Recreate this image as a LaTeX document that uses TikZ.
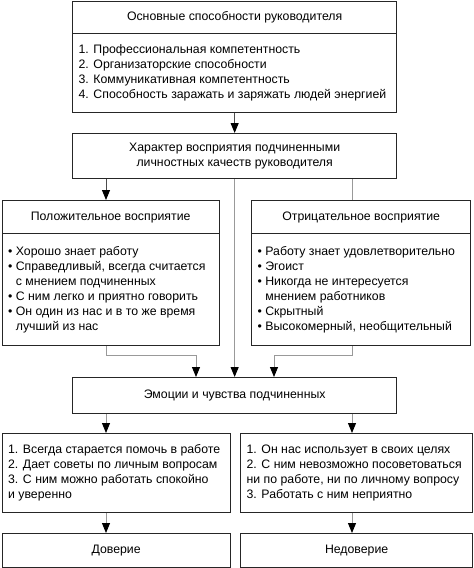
\documentclass[tikz,border=0pt]{standalone}
\usepackage{fontspec}
\setmainfont{Liberation Sans}
\usetikzlibrary{arrows.meta}
\newcommand{\lstbody}[2]{\makebox[#1][l]{\begin{tabular}{@{}l@{}}#2\end{tabular}}}
\begin{document}
\begin{tikzpicture}[x=1pt,y=-1pt,
  box/.style={draw=black!85,line width=1.3pt,fill=white,rectangle,inner xsep=6pt,inner ysep=0pt,
    anchor=north west,font=\fontsize{12.3}{15}\selectfont},
  ctr/.style={box,align=center},
  lst/.style={box},
  conn/.style={draw=black!40,line width=1pt},
  arr/.style={conn,-{Triangle[length=10pt,width=8pt,color=black,fill=black]}},
  darr/.style={draw=black!70,line width=1pt,-{Triangle[length=10pt,width=8pt,color=black,fill=black]}}
]
\useasboundingbox (0,0) rectangle (474,568);
% top box
\node[ctr,minimum width=324pt,minimum height=32pt] (t1) at (72,1) {Основные способности руководителя};
\node[lst,minimum width=324pt,minimum height=79pt] (t2) at (72,33) {\lstbody{312pt}{1. Профессиональная компетентность\\2. Организаторские способности\\3. Коммуникативная компетентность\\4. Способность заражать и заряжать людей энергией}};
% box 2
\node[ctr,minimum width=324pt,minimum height=45pt] (c) at (72,133) {Характер восприятия подчиненными\\личностных качеств руководителя};
% left
\node[ctr,minimum width=217pt,minimum height=33pt] (p1) at (1.5,200) {Положительное восприятие};
\node[lst,minimum width=217pt,minimum height=112pt] (p2) at (1.5,233) {\lstbody{205pt}{• Хорошо знает работу\\• Справедливый, всегда считается\\\phantom{•\ }с мнением подчиненных\\• С ним легко и приятно говорить\\• Он один из нас и в то же время\\\phantom{•\ }лучший из нас}};
% right
\node[ctr,minimum width=219pt,minimum height=33pt] (n1) at (251,200) {Отрицательное восприятие};
\node[lst,minimum width=219pt,minimum height=112pt] (n2) at (251,233) {\lstbody{207pt}{• Работу знает удовлетворительно\\• Эгоист\\• Никогда не интересуется\\\phantom{•\ }мнением работников\\• Скрытный\\• Высокомерный, необщительный}};
% emotions
\node[ctr,minimum width=324pt,minimum height=36pt] (e) at (72,377) {Эмоции и чувства подчиненных};
% bottom lists
\node[lst,minimum width=228pt,minimum height=79pt] (l) at (1.5,433) {\lstbody{216pt}{1. Всегда старается помочь в работе\\2. Дает советы по личным вопросам\\3. С ним можно работать спокойно\\и уверенно}};
\node[lst,minimum width=232pt,minimum height=79pt] (r) at (240,433) {\lstbody{220pt}{1. Он нас использует в своих целях\\2. С ним невозможно посоветоваться\\ни по работе, ни по личному вопросу\\3. Работать с ним неприятно}};
% final
\node[ctr,minimum width=228pt,minimum height=34pt] (d) at (1.5,533) {Доверие};
\node[ctr,minimum width=232pt,minimum height=34pt] (nd) at (240,533) {Недоверие};
% coordinates
\coordinate (bl) at (106,355);
\coordinate (br) at (352,355);
% connectors
\draw[darr] (t2.south) -- (c.north);
\draw[darr] (c.south -| 106,0) -- (p1.north -| 106,0);
\draw[conn] (c.south -| 352,0) -- (n1.north -| 352,0);
\draw[arr] (c.south) -- (e.north);
\draw[arr] (p2.south -| bl) -- (bl) -| (e.north -| 196,0);
\draw[arr] (n2.south -| br) -- (br) -| (e.north -| 274,0);
\draw[arr] (e.south -| 106,0) -- (l.north -| 106,0);
\draw[arr] (e.south -| 352,0) -- (r.north -| 352,0);
\draw[arr] (l.south -| 106,0) -- (d.north -| 106,0);
\draw[arr] (r.south -| 352,0) -- (nd.north -| 352,0);
\end{tikzpicture}
\end{document}
